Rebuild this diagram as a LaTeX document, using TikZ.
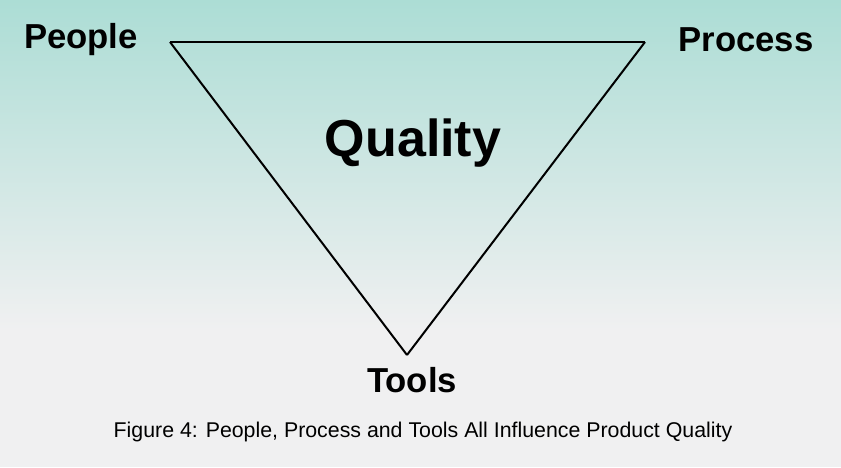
\documentclass[tikz,border=0pt]{standalone}
\usepackage{fontspec}
\setmainfont{Liberation Sans}
\definecolor{topteal}{RGB}{172,221,213}
\definecolor{lowgray}{RGB}{240,240,241}
\tikzset{corner/.style={font=\bfseries\fontsize{26}{30}\selectfont},
  side/.style={thick,black,line width=1.5pt}}
\begin{document}
\begin{tikzpicture}[x=0.75pt,y=-0.75pt]
\useasboundingbox (0,0) rectangle (841,467);
% background
\shade[top color=topteal,bottom color=lowgray] (0,0) rectangle (841,330);
\fill[lowgray] (0,329.5) rectangle (841,467);
% triangle corners
\coordinate (pe) at (170,42);
\coordinate (pr) at (645,42);
\coordinate (to) at (407,355);
\draw [side] (pe) -- (pr);
\draw [side] (pe) -- (to);
\draw [side] (pr) -- (to);
% labels
\node [corner] (people) at (81,40) {People};
\node [corner] (process) at (746,40) {Process};
\node [corner] (tools) at (412,380) {Tools};
\node [font=\bfseries\fontsize{39}{44}\selectfont] (quality) at (413,143) {Quality};
\node [font=\fontsize{16}{19}\selectfont] (caption) at (423,432) {Figure 4: People, Process and Tools All Influence Product Quality};
\end{tikzpicture}
\end{document}
